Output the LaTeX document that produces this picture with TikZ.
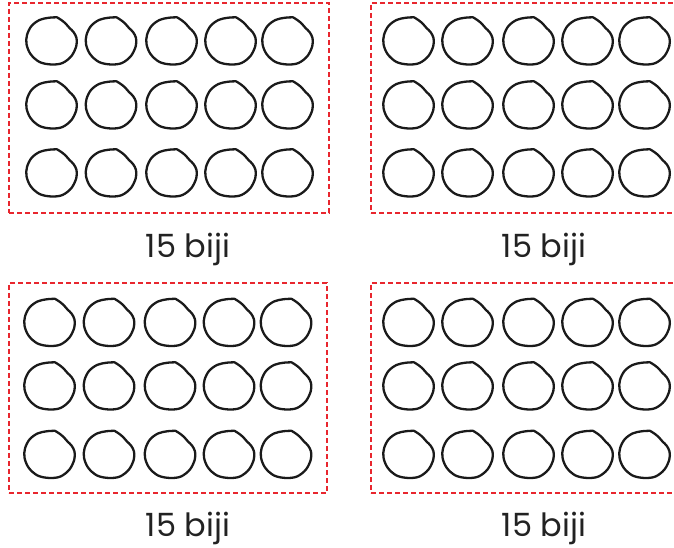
\documentclass[tikz,border=0pt]{standalone}
\usepackage{fontspec}
\setmainfont{Poppins}
\usetikzlibrary{positioning}
\definecolor{trayline}{HTML}{E8262E}
\definecolor{seedline}{HTML}{1A1A1A}
\definecolor{ink}{HTML}{222222}
\tikzset{
 tray/.style={draw=trayline,line width=1.5pt,dash pattern=on 5pt off 3pt,inner sep=0pt,minimum height=210pt},
 tally/.style={font=\fontsize{32}{38}\selectfont,text=ink,inner sep=0pt,anchor=base},
 seed/.pic={
  \draw[seedline,line width=2.3pt,line join=round,line cap=round]
   plot[smooth,tension=.55] coordinates {(5.5,23.7) (-3,23.2) (-12,21) (-20,15) (-24.5,6)
   (-25,-3) (-21,-13) (-12,-21) (0,-23.5) (11,-22) (20,-15) (24.8,-5) (25,3) (22,9)
   (18,13) (14.5,17) (10.5,20.5) (5.5,23.7)};
 },
}

\begin{document}
\begin{tikzpicture}[x=1pt,y=1pt]
\useasboundingbox (0,0) rectangle (674,548);
\clip (0,0) rectangle (674,548);

% trays
\node[tray,minimum width=320pt] (trayA) at (169,440) {};
\node[tray,minimum width=330pt] (trayB) at (536,440) {};
\node[tray,minimum width=318pt] (trayC) at (168,160) {};
\node[tray,minimum width=330pt] (trayD) at (536,160) {};

% seeds
\foreach \x in {51.5,111,171.5,230.5,287.5}
  \foreach \y in {507,443,375}
    \pic at (\x,\y) {seed};
\foreach \x in {408.5,467.5,528.5,587.5,644.5}
  \foreach \y in {507,443,375}
    \pic at (\x,\y) {seed};
\foreach \x in {49.5,109,170,229,286}
  \foreach \y in {225.5,162,93.5}
    \pic at (\x,\y) {seed};
\foreach \x in {408.5,467.5,528.5,587.5,644.5}
  \foreach \y in {225.5,162,93.5}
    \pic at (\x,\y) {seed};

% counts
\node[tally] (countA) at (188,290) {15 biji};
\node[tally] (countB) at (544,290) {15 biji};
\node[tally] (countC) at (188,11) {15 biji};
\node[tally] (countD) at (544,11) {15 biji};

\end{tikzpicture}
\end{document}
